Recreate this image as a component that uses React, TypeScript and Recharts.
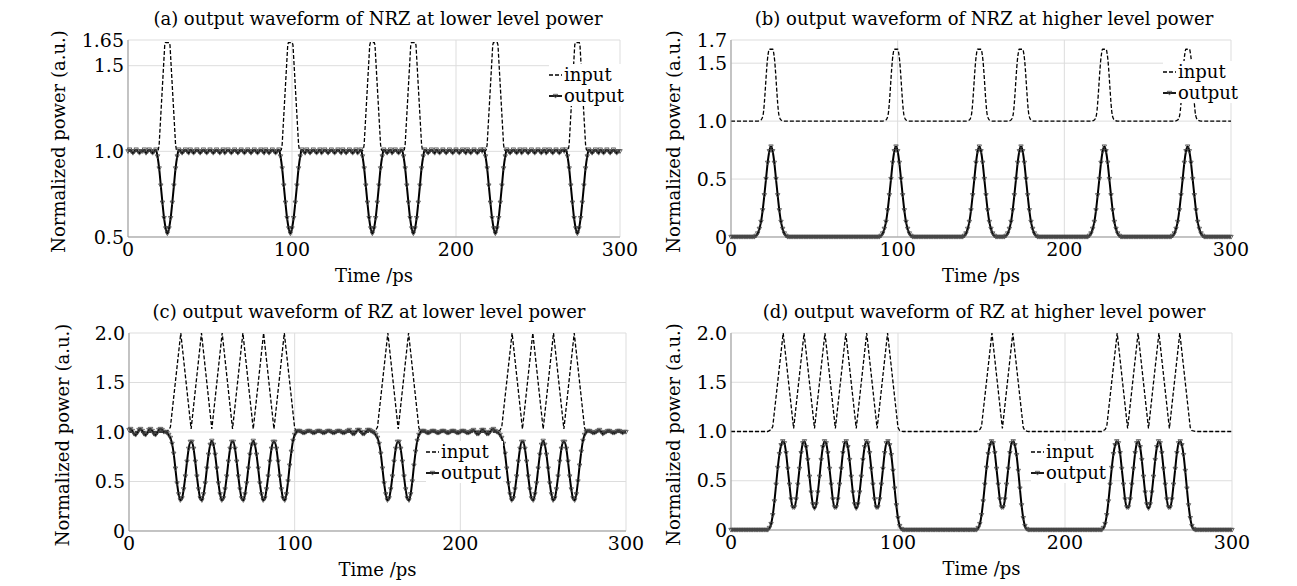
import React from "react";
import { LineChart, Line, XAxis, YAxis, CartesianGrid } from "recharts";

const FONT = '"DejaVu Serif", serif';

// time axis and tick labels
const xTicks = [0, 100, 200, 300];
const yTicksA = [0.5, 1.0, 1.5, 1.65];
const yLabelsA = ["0.5", "1.0", "1.5", "1.65"];
const yTicksB = [0, 0.5, 1.0, 1.5, 1.7];
const yLabelsB = ["0", "0.5", "1.0", "1.5", "1.7"];
const yTicksRZ = [0, 0.5, 1.0, 1.5, 2.0];
const yLabelsRZ = ["0", "0.5", "1.0", "1.5", "2.0"];

// input waveforms, [time ps, power] breakpoints
const inputA = [
  [0, 1], [17.5, 1], [18.5, 1.01], [19, 1.04], [22.4, 1.62], [22.8, 1.635], [25.2, 1.635], [25.6, 1.62], [29, 1.04], [29.5, 1.01], [30.5, 1],
  [92.5, 1], [93.5, 1.01], [94, 1.04], [97.4, 1.62], [97.8, 1.635], [100.2, 1.635], [100.6, 1.62], [104, 1.04], [104.5, 1.01], [105.5, 1],
  [142.5, 1], [143.5, 1.01], [144, 1.04], [147.4, 1.62], [147.8, 1.635], [150.2, 1.635], [150.6, 1.62], [154, 1.04], [154.5, 1.01], [155.5, 1],
  [167.5, 1], [168.5, 1.01], [169, 1.04], [172.4, 1.62], [172.8, 1.635], [175.2, 1.635], [175.6, 1.62], [179, 1.04], [179.5, 1.01], [180.5, 1],
  [217.5, 1], [218.5, 1.01], [219, 1.04], [222.4, 1.62], [222.8, 1.635], [225.2, 1.635], [225.6, 1.62], [229, 1.04], [229.5, 1.01], [230.5, 1],
  [267.5, 1], [268.5, 1.01], [269, 1.04], [272.4, 1.62], [272.8, 1.635], [275.2, 1.635], [275.6, 1.62], [279, 1.04], [279.5, 1.01], [280.5, 1],
  [300, 1],
];

const inputB = [
  [0, 1], [16, 1], [18, 1.01], [19.2, 1.05], [22.2, 1.57], [22.9, 1.62], [25.1, 1.62], [25.8, 1.57], [28.8, 1.05], [30, 1.01], [32, 1],
  [91, 1], [93, 1.01], [94.2, 1.05], [97.2, 1.57], [97.9, 1.62], [100.1, 1.62], [100.8, 1.57], [103.8, 1.05], [105, 1.01], [107, 1],
  [141, 1], [143, 1.01], [144.2, 1.05], [147.2, 1.57], [147.9, 1.62], [150.1, 1.62], [150.8, 1.57], [153.8, 1.05], [155, 1.01], [157, 1],
  [166, 1], [168, 1.01], [169.2, 1.05], [172.2, 1.57], [172.9, 1.62], [175.1, 1.62], [175.8, 1.57], [178.8, 1.05], [180, 1.01], [182, 1],
  [216, 1], [218, 1.01], [219.2, 1.05], [222.2, 1.57], [222.9, 1.62], [225.1, 1.62], [225.8, 1.57], [228.8, 1.05], [230, 1.01], [232, 1],
  [266, 1], [268, 1.01], [269.2, 1.05], [272.2, 1.57], [272.9, 1.62], [275.1, 1.62], [275.8, 1.57], [278.8, 1.05], [280, 1.01], [282, 1],
  [300, 1],
];

const inputRZ = [
  [0, 1], [22, 1], [24, 1.02], [25, 1.05], [31.25, 2], [37.5, 1.03], [43.75, 2], [50, 1.03], [56.25, 2], [62.5, 1.03],
  [68.75, 2], [75, 1.03], [81.25, 2], [87.5, 1.03], [93.75, 2], [100, 1.04], [101, 1.01], [103, 1],
  [147, 1], [149, 1.02], [150, 1.05], [156.25, 2], [162.5, 1.03], [168.75, 2], [175, 1.04], [176, 1.01], [178, 1],
  [222, 1], [224, 1.02], [225, 1.05], [231.25, 2], [237.5, 1.03], [243.75, 2], [250, 1.03], [256.25, 2], [262.5, 1.03],
  [268.75, 2], [275, 1.04], [276, 1.01], [278, 1], [300, 1],
];

// output waveforms, one value per ps from 0 to 300 (rows of 25 ps)
const outputA = [
  1, 1.01, 1, 0.99, 1, 1.01, 1, 0.99, 1, 1, 1.01, 0.99, 1, 1.01, 1, 0.99, 1, 1.01, 0.97, 0.9, 0.8, 0.7, 0.61, 0.55, 0.52,
  0.55, 0.61, 0.7, 0.8, 0.9, 0.97, 1.01, 1, 0.99, 1, 1.01, 1, 0.99, 1.01, 1, 0.99, 1, 1.01, 1, 0.99, 1, 1.01, 1, 0.99, 1,
  1.01, 1, 0.99, 1, 1.01, 1, 0.99, 1, 1.01, 0.99, 1, 1.01, 1, 0.99, 1, 1.01, 1, 0.99, 1, 1.01, 1, 0.99, 1, 1.01, 1,
  0.99, 1, 1.01, 1, 0.99, 1, 1.01, 1, 0.99, 1.01, 1, 0.99, 1, 1.01, 1, 0.99, 1, 1.01, 0.97, 0.9, 0.8, 0.7, 0.61, 0.55, 0.52,
  0.55, 0.61, 0.7, 0.8, 0.9, 0.97, 1.01, 1, 0.99, 1.01, 1, 0.99, 1, 1.01, 1, 0.99, 1, 1.01, 0.99, 1, 1.01, 1, 0.99, 1, 1.01,
  1, 0.99, 1, 1.01, 1, 0.99, 1.01, 1, 0.99, 1, 1.01, 1, 0.99, 1, 1.01, 0.99, 1, 1.01, 0.97, 0.9, 0.8, 0.7, 0.61, 0.55, 0.52,
  0.55, 0.61, 0.7, 0.8, 0.9, 0.97, 1.01, 1, 0.99, 1, 1.01, 0.99, 1, 1.01, 1, 0.99, 1, 1.01, 0.97, 0.9, 0.8, 0.7, 0.61, 0.55, 0.52,
  0.55, 0.61, 0.7, 0.8, 0.9, 0.97, 1.01, 1, 0.99, 1, 1.01, 1, 0.99, 1.01, 1, 0.99, 1, 1.01, 1, 0.99, 1, 1.01, 1, 0.99, 1,
  1.01, 1, 0.99, 1, 1.01, 1, 0.99, 1.01, 1, 0.99, 1, 1.01, 1, 0.99, 1, 1.01, 1, 1.01, 0.97, 0.9, 0.8, 0.7, 0.61, 0.55, 0.52,
  0.55, 0.61, 0.7, 0.8, 0.9, 0.97, 1.01, 1, 0.99, 1, 1.01, 1, 0.99, 1, 1.01, 0.99, 1, 1.01, 1, 0.99, 1, 1.01, 1, 0.99, 1,
  1.01, 1, 0.99, 1, 1.01, 0.99, 1, 1.01, 1, 0.99, 1, 1.01, 1, 0.99, 1, 1.01, 1, 1.01, 0.97, 0.9, 0.8, 0.7, 0.61, 0.55, 0.52,
  0.55, 0.61, 0.7, 0.8, 0.9, 0.97, 1.01, 1, 0.99, 1, 1.01, 1, 0.99, 1.01, 1, 0.99, 1, 1.01, 1, 0.99, 1, 1.01, 1, 0.99, 1,
  1,
];

const outputB = [
  0, 0, 0, 0, 0, 0, 0, 0, 0, 0, 0, 0, 0, 0, 0, 0.01, 0.03, 0.07, 0.13, 0.23, 0.36, 0.5, 0.64, 0.74, 0.78,
  0.74, 0.64, 0.5, 0.36, 0.23, 0.13, 0.07, 0.03, 0.01, 0, 0, 0, 0, 0, 0, 0, 0, 0, 0, 0, 0, 0, 0, 0, 0,
  0, 0, 0, 0, 0, 0, 0, 0, 0, 0, 0, 0, 0, 0, 0, 0, 0, 0, 0, 0, 0, 0, 0, 0, 0,
  0, 0, 0, 0, 0, 0, 0, 0, 0, 0, 0, 0, 0, 0, 0, 0.01, 0.03, 0.07, 0.13, 0.23, 0.36, 0.5, 0.64, 0.74, 0.78,
  0.74, 0.64, 0.5, 0.36, 0.23, 0.13, 0.07, 0.03, 0.01, 0, 0, 0, 0, 0, 0, 0, 0, 0, 0, 0, 0, 0, 0, 0, 0,
  0, 0, 0, 0, 0, 0, 0, 0, 0, 0, 0, 0, 0, 0, 0, 0.01, 0.03, 0.07, 0.13, 0.23, 0.36, 0.5, 0.64, 0.74, 0.78,
  0.74, 0.64, 0.5, 0.36, 0.23, 0.13, 0.07, 0.03, 0.01, 0, 0, 0, 0, 0, 0, 0.01, 0.03, 0.07, 0.13, 0.23, 0.36, 0.5, 0.64, 0.74, 0.78,
  0.74, 0.64, 0.5, 0.36, 0.23, 0.13, 0.07, 0.03, 0.01, 0, 0, 0, 0, 0, 0, 0, 0, 0, 0, 0, 0, 0, 0, 0, 0,
  0, 0, 0, 0, 0, 0, 0, 0, 0, 0, 0, 0, 0, 0, 0, 0.01, 0.03, 0.07, 0.13, 0.23, 0.36, 0.5, 0.64, 0.74, 0.78,
  0.74, 0.64, 0.5, 0.36, 0.23, 0.13, 0.07, 0.03, 0.01, 0, 0, 0, 0, 0, 0, 0, 0, 0, 0, 0, 0, 0, 0, 0, 0,
  0, 0, 0, 0, 0, 0, 0, 0, 0, 0, 0, 0, 0, 0, 0, 0.01, 0.03, 0.07, 0.13, 0.23, 0.36, 0.5, 0.64, 0.74, 0.78,
  0.74, 0.64, 0.5, 0.36, 0.23, 0.13, 0.07, 0.03, 0.01, 0, 0, 0, 0, 0, 0, 0, 0, 0, 0, 0, 0, 0, 0, 0, 0,
  0,
];

const outputC = [
  1.02, 1.03, 1.01, 0.98, 0.97, 0.99, 1.02, 1.03, 1.01, 0.98, 0.97, 0.99, 1.02, 1.03, 1.01, 0.98, 0.97, 0.99, 1.02, 1.03, 1.02, 1, 1, 0.99, 0.97,
  0.94, 0.88, 0.78, 0.63, 0.48, 0.37, 0.31, 0.33, 0.42, 0.55, 0.7, 0.83, 0.9, 0.9, 0.83, 0.7, 0.55, 0.42, 0.33, 0.31, 0.37, 0.48, 0.63, 0.77, 0.87,
  0.91, 0.87, 0.77, 0.63, 0.48, 0.37, 0.31, 0.33, 0.42, 0.55, 0.7, 0.83, 0.9, 0.9, 0.83, 0.7, 0.55, 0.42, 0.33, 0.31, 0.37, 0.48, 0.63, 0.77, 0.87,
  0.91, 0.87, 0.77, 0.63, 0.48, 0.37, 0.31, 0.33, 0.42, 0.55, 0.7, 0.83, 0.9, 0.9, 0.83, 0.7, 0.55, 0.42, 0.33, 0.31, 0.37, 0.5, 0.66, 0.8, 0.91,
  0.97, 1, 1.01, 1.01, 1, 0.99, 0.99, 1, 1.01, 1.01, 1, 0.99, 0.99, 1, 1.01, 1.01, 1, 0.99, 0.99, 1, 1.01, 1.01, 1, 0.99, 0.99,
  1, 1.01, 1.01, 1, 0.99, 0.99, 1, 1.01, 1.02, 1, 0.98, 0.98, 1, 1.02, 1.02, 1, 0.98, 0.98, 1, 1.02, 1.02, 1.01, 1, 0.99, 0.97,
  0.94, 0.88, 0.78, 0.63, 0.48, 0.37, 0.31, 0.33, 0.42, 0.55, 0.7, 0.83, 0.9, 0.9, 0.83, 0.7, 0.55, 0.42, 0.33, 0.31, 0.37, 0.5, 0.66, 0.8, 0.91,
  0.97, 1, 1.01, 1.01, 1, 0.99, 0.99, 1, 1.01, 1.01, 1, 0.99, 0.99, 1, 1.01, 1.01, 1, 0.99, 0.99, 1, 1.01, 1.01, 1, 0.99, 0.99,
  1, 1.01, 1.01, 1, 0.99, 0.99, 1, 1.01, 1.02, 1, 0.98, 0.98, 1, 1.02, 1.02, 1, 0.98, 0.98, 1, 1.02, 1.03, 1.01, 1, 0.99, 0.97,
  0.94, 0.88, 0.78, 0.63, 0.48, 0.37, 0.31, 0.33, 0.42, 0.55, 0.7, 0.83, 0.9, 0.9, 0.83, 0.7, 0.55, 0.42, 0.33, 0.31, 0.37, 0.48, 0.63, 0.77, 0.87,
  0.91, 0.87, 0.77, 0.63, 0.48, 0.37, 0.31, 0.33, 0.42, 0.55, 0.7, 0.83, 0.9, 0.9, 0.83, 0.7, 0.55, 0.42, 0.33, 0.31, 0.37, 0.5, 0.66, 0.8, 0.91,
  0.97, 1, 1.01, 1.01, 1, 0.99, 0.99, 1, 1.01, 1.02, 1, 0.98, 0.99, 1, 1.01, 1.01, 1, 0.99, 0.99, 1, 1.01, 1.01, 1, 0.99, 1,
  1,
];

const outputD = [
  0, 0, 0, 0, 0, 0, 0, 0, 0, 0, 0, 0, 0, 0, 0, 0, 0, 0, 0, 0, 0, 0, 0, 0.02, 0.06,
  0.15, 0.29, 0.46, 0.63, 0.77, 0.86, 0.9, 0.88, 0.78, 0.62, 0.46, 0.31, 0.23, 0.23, 0.31, 0.46, 0.62, 0.78, 0.88, 0.9, 0.84, 0.71, 0.54, 0.38, 0.26,
  0.22, 0.26, 0.38, 0.54, 0.71, 0.84, 0.9, 0.88, 0.78, 0.62, 0.46, 0.31, 0.23, 0.23, 0.31, 0.46, 0.62, 0.78, 0.88, 0.9, 0.84, 0.71, 0.54, 0.38, 0.26,
  0.22, 0.26, 0.38, 0.54, 0.71, 0.84, 0.9, 0.88, 0.78, 0.62, 0.46, 0.31, 0.23, 0.23, 0.31, 0.46, 0.62, 0.78, 0.88, 0.9, 0.86, 0.76, 0.6, 0.42, 0.25,
  0.12, 0.04, 0.01, 0, 0, 0, 0, 0, 0, 0, 0, 0, 0, 0, 0, 0, 0, 0, 0, 0, 0, 0, 0, 0, 0,
  0, 0, 0, 0, 0, 0, 0, 0, 0, 0, 0, 0, 0, 0, 0, 0, 0, 0, 0, 0, 0, 0, 0, 0.02, 0.06,
  0.15, 0.29, 0.46, 0.63, 0.77, 0.86, 0.9, 0.88, 0.78, 0.62, 0.46, 0.31, 0.23, 0.23, 0.31, 0.46, 0.62, 0.78, 0.88, 0.9, 0.86, 0.76, 0.6, 0.42, 0.25,
  0.12, 0.04, 0.01, 0, 0, 0, 0, 0, 0, 0, 0, 0, 0, 0, 0, 0, 0, 0, 0, 0, 0, 0, 0, 0, 0,
  0, 0, 0, 0, 0, 0, 0, 0, 0, 0, 0, 0, 0, 0, 0, 0, 0, 0, 0, 0, 0, 0, 0, 0.02, 0.06,
  0.15, 0.29, 0.46, 0.63, 0.77, 0.86, 0.9, 0.88, 0.78, 0.62, 0.46, 0.31, 0.23, 0.23, 0.31, 0.46, 0.62, 0.78, 0.88, 0.9, 0.84, 0.71, 0.54, 0.38, 0.26,
  0.22, 0.26, 0.38, 0.54, 0.71, 0.84, 0.9, 0.88, 0.78, 0.62, 0.46, 0.31, 0.23, 0.23, 0.31, 0.46, 0.62, 0.78, 0.88, 0.9, 0.86, 0.76, 0.6, 0.42, 0.25,
  0.12, 0.04, 0.01, 0, 0, 0, 0, 0, 0, 0, 0, 0, 0, 0, 0, 0, 0, 0, 0, 0, 0, 0, 0, 0, 0,
  0,
];

const keyPoints = (pairs: number[][]) => pairs.map(([t, v]) => ({ t, v }));
// outputs are sampled at 1 ps, so the index is the time
const samples = (vals: number[]) => vals.map((v, i) => ({ t: i, v }));

const Marker = (p: any) => {
  const { cx, cy, index } = p;
  if (cx == null || cy == null) return <g key={`m${index}`} />;
  return (
    <path
      key={`m${index}`}
      d={`M${cx - 2.2},${cy - 1.7}L${cx + 2.2},${cy - 1.7}L${cx},${cy + 2.1}Z`}
      fill="none"
      stroke="#444"
      strokeWidth={0.8}
    />
  );
};

const YTitle = ({ x0, y0 }: { x0: number; y0: number }) => (
  <text
    x={x0}
    y={y0}
    transform={`rotate(-90 ${x0} ${y0})`}
    textAnchor="middle"
    dominantBaseline="central"
    fontFamily={FONT}
    fontSize={18}
    fill="#000"
  >
    Normalized power (a.u.)
  </text>
);

const XTitle = ({ x0, y0 }: { x0: number; y0: number }) => (
  <text x={x0} y={y0} textAnchor="middle" dominantBaseline="central" fontFamily={FONT} fontSize={18} fill="#000">
    Time /ps
  </text>
);

function Legend({ x, y }: { x: number; y: number }) {
  const row: React.CSSProperties = { display: "flex", alignItems: "center", height: 21 };
  return (
    <div style={{ position: "absolute", left: x, top: y, background: "#fff", fontFamily: FONT, fontSize: 18, color: "#000", paddingRight: 2 }}>
      <div style={row}>
        <svg width={13} height={10}>
          <line x1={0} y1={5} x2={13} y2={5} stroke="#000" strokeWidth={1.3} strokeDasharray="4 2" />
        </svg>
        <span style={{ marginLeft: 2 }}>input</span>
      </div>
      <div style={row}>
        <svg width={13} height={10}>
          <line x1={0} y1={5} x2={13} y2={5} stroke="#000" strokeWidth={1.8} />
          <path d="M4.3,3.3L8.7,3.3L6.5,7.1Z" fill="none" stroke="#444" strokeWidth={0.8} />
        </svg>
        <span style={{ marginLeft: 2 }}>output</span>
      </div>
    </div>
  );
}

type Panel = {
  title: string;
  left: number;
  top: number;
  width: number;
  right: number;
  yWidth: number;
  xHeight: number;
  yDomain: [number, number];
  yTicks: number[];
  yLabels: string[];
  input: number[][];
  inputCurve: "linear" | "monotone";
  output: number[];
  titleX: number;
  yTitleX: number;
  legendX: number;
  legendY: number;
};

const panels: Panel[] = [
  {
    title: "(a) output waveform of NRZ at lower level power",
    left: 0, top: 0, width: 648, right: 28, yWidth: 128, xHeight: 56,
    yDomain: [0.5, 1.65], yTicks: yTicksA, yLabels: yLabelsA,
    input: inputA, inputCurve: "linear", output: outputA,
    titleX: 378, yTitleX: 58, legendX: 549, legendY: 64,
  },
  {
    title: "(b) output waveform of NRZ at higher level power",
    left: 648, top: 0, width: 649, right: 66, yWidth: 83, xHeight: 56,
    yDomain: [0, 1.7], yTicks: yTicksB, yLabels: yLabelsB,
    input: inputB, inputCurve: "monotone", output: outputB,
    titleX: 336, yTitleX: 25, legendX: 515, legendY: 61,
  },
  {
    title: "(c) output waveform of RZ at lower level power",
    left: 0, top: 293, width: 648, right: 22, yWidth: 129, xHeight: 55,
    yDomain: [0, 2], yTicks: yTicksRZ, yLabels: yLabelsRZ,
    input: inputRZ, inputCurve: "linear", output: outputC,
    titleX: 369, yTitleX: 62, legendX: 426, legendY: 148,
  },
  {
    title: "(d) output waveform of RZ at higher level power",
    left: 648, top: 293, width: 649, right: 65, yWidth: 83, xHeight: 56,
    yDomain: [0, 2], yTicks: yTicksRZ, yLabels: yLabelsRZ,
    input: inputRZ, inputCurve: "linear", output: outputD,
    titleX: 336, yTitleX: 25, legendX: 383, legendY: 148,
  },
];

const H = 293;
const TOP = 40;
const tickStyle = { fontSize: 19, fill: "#000", fontFamily: FONT };

function PanelChart({ p }: { p: Panel }) {
  const plotLeft = p.yWidth;
  const plotRight = p.width - p.right;
  const plotMidY = (TOP + H - p.xHeight) / 2 + 3;
  return (
    <div style={{ position: "absolute", left: p.left, top: p.top, width: p.width, height: H }}>
      <div
        style={{
          position: "absolute",
          left: p.titleX,
          top: 8,
          transform: "translateX(-50%)",
          whiteSpace: "nowrap",
          fontFamily: FONT,
          fontSize: 18,
          lineHeight: "22px",
          color: "#000",
        }}
      >
        {p.title}
      </div>
      <LineChart width={p.width} height={H} margin={{ top: TOP, right: p.right, bottom: 0, left: 0 }}>
        <CartesianGrid stroke="#dddddd" strokeWidth={1} />
        <XAxis
          type="number"
          dataKey="t"
          domain={[0, 300]}
          ticks={xTicks}
          interval={0}
          height={p.xHeight}
          tickLine={false}
          tickSize={6}
          tickMargin={0}
          axisLine={{ stroke: "#999" }}
          tick={tickStyle}
          label={<XTitle x0={(plotLeft + plotRight) / 2} y0={H - p.xHeight + 38} />}
        />
        <YAxis
          type="number"
          domain={p.yDomain}
          ticks={p.yTicks}
          interval={0}
          width={p.yWidth}
          tickLine={false}
          tickSize={4}
          tickMargin={0}
          axisLine={{ stroke: "#999" }}
          tick={tickStyle}
          tickFormatter={(v: number) => p.yLabels[p.yTicks.indexOf(v)] ?? String(v)}
          label={<YTitle x0={p.yTitleX} y0={plotMidY} />}
        />
        <Line
          data={keyPoints(p.input)}
          dataKey="v"
          type={p.inputCurve}
          stroke="#000"
          strokeWidth={1.3}
          strokeDasharray="4 2"
          dot={false}
          activeDot={false}
          isAnimationActive={false}
        />
        <Line
          data={samples(p.output)}
          dataKey="v"
          type="monotone"
          stroke="#000"
          strokeWidth={2}
          dot={Marker}
          activeDot={false}
          isAnimationActive={false}
        />
      </LineChart>
      <Legend x={p.legendX} y={p.legendY} />
    </div>
  );
}

export default function App() {
  return (
    <div style={{ position: "relative", width: 1297, height: 586, background: "#fff", overflow: "hidden" }}>
      <style>{"body{margin:0}"}</style>
      {panels.map((p) => (
        <PanelChart key={p.title} p={p} />
      ))}
    </div>
  );
}
